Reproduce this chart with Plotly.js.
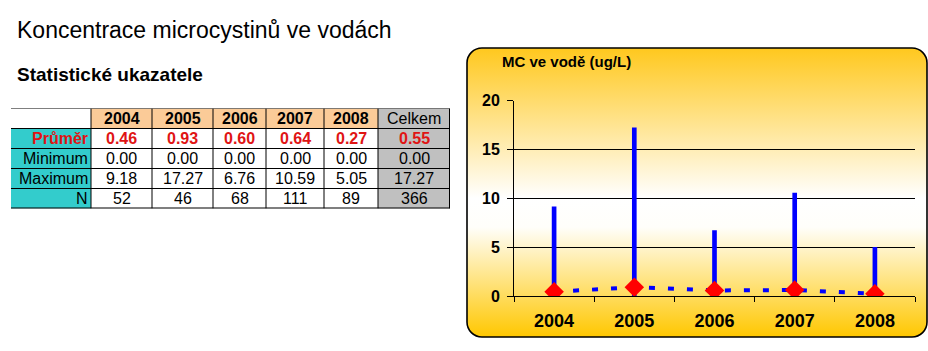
<!DOCTYPE html>
<html><head><meta charset="utf-8">
<script src="https://cdn.plot.ly/plotly-3.0.1.min.js"></script>
<style>html,body{margin:0;padding:0;background:#fff}#chart{width:928px;height:351px}</style>
</head><body><div id="chart"></div><script>
// ---- data ----
const years = ['2004', '2005', '2006', '2007', '2008'];
const meanValues = [0.46, 0.93, 0.60, 0.64, 0.27];
const minValues = [0.00, 0.00, 0.00, 0.00, 0.00];
const maxValues = [9.18, 17.27, 6.76, 10.59, 5.05];
const countValues = [52, 46, 68, 111, 89];
const totalHeader = 'Celkem';
const totalMean = 0.55;
const totalMin = 0.00;
const totalMax = 17.27;
const totalCount = 366;
const rowLabels = ['Průměr', 'Minimum', 'Maximum', 'N'];
const yTickValues = [0, 5, 10, 15, 20];
const mainTitle = 'Koncentrace microcystinů ve vodách';
const subTitle = 'Statistické ukazatele';
const chartTitle = 'MC ve vodě (ug/L)';

// ---- layout helpers ----
const W = 928, H = 351;
const px = x => x / W, py = y => 1 - y / H;
const FONT = '"Liberation Sans", Arial, sans-serif';
const RED = '#E01414';

// table geometry (pixels)
const colWidths = [80, 61, 61, 53, 58, 54, 72];
const colEdges = [0];
colWidths.forEach(w => colEdges.push(colEdges[colEdges.length - 1] + w));
const tableLeft = 11, tableTop = 108.5, rowH = 20, nRows = 5;
const tableW = colEdges[colEdges.length - 1];

const fmt = v => v.toFixed(2);
const tableRows = [
  [''].concat(years, [totalHeader]),
  [rowLabels[0]].concat(meanValues.map(fmt), [fmt(totalMean)]),
  [rowLabels[1]].concat(minValues.map(fmt), [fmt(totalMin)]),
  [rowLabels[2]].concat(maxValues.map(fmt), [fmt(totalMax)]),
  [rowLabels[3]].concat(countValues.map(String), [String(totalCount)])
];

const shapes = [];
const annotations = [];
const nCols = colWidths.length;
for (let r = 0; r < nRows; r++) {
  for (let c = 0; c < nCols; c++) {
    let fill = null;
    if (c === nCols - 1) fill = '#C0C0C0';
    else if (r === 0 && c > 0) fill = '#FBCB98';
    else if (r > 0 && c === 0) fill = '#33CCCC';
    if (fill) shapes.push({type: 'rect', xref: 'x2', yref: 'y2', x0: colEdges[c], x1: colEdges[c + 1], y0: r, y1: r + 1,
      fillcolor: fill, line: {width: 0}, layer: 'below'});
    const txt = tableRows[r][c];
    if (txt === '') continue;
    let bold = false, color = '#000';
    if (r === 0 && c > 0 && c < nCols - 1) bold = true;
    if (r === 1) { bold = true; color = RED; }
    annotations.push({xref: 'x2', yref: 'y2', x: c === 0 ? colEdges[1] - 1 : (colEdges[c] + colEdges[c + 1]) / 2,
      y: r + 0.5, xanchor: c === 0 ? 'right' : 'center', yanchor: 'middle', showarrow: false,
      text: bold ? '<b>' + txt + '</b>' : txt, font: {family: FONT, size: 16, color: color}});
  }
}
// borders
for (let r = 0; r <= nRows; r++) {
  shapes.push({type: 'line', xref: 'x2', yref: 'y2', x0: 0, x1: tableW, y0: r, y1: r,
    line: {color: '#000', width: r === nRows ? 2 : 1}});
}
for (let c = 1; c <= nCols; c++) {
  shapes.push({type: 'line', xref: 'x2', yref: 'y2', x0: colEdges[c], x1: colEdges[c], y0: 0, y1: nRows,
    line: {color: '#000', width: c === nCols ? 2 : 1}});
}

// titles
annotations.push({xref: 'paper', yref: 'paper', x: px(15), y: py(30), xanchor: 'left', yanchor: 'middle', showarrow: false,
  text: mainTitle, font: {family: FONT, size: 23, color: '#000'}});
annotations.push({xref: 'paper', yref: 'paper', x: px(15), y: py(74), xanchor: 'left', yanchor: 'middle', showarrow: false,
  text: '<b>' + subTitle + '</b>', font: {family: FONT, size: 19, color: '#000'}});
annotations.push({xref: 'paper', yref: 'paper', x: px(500), y: py(62), xanchor: 'left', yanchor: 'middle', showarrow: false,
  text: '<b>' + chartTitle + '</b>', font: {family: FONT, size: 15, color: '#000'}});

// chart panel background (rounded, gradient)
const panelW = 464, panelH = 293;
const svg = '<svg xmlns="http://www.w3.org/2000/svg" width="' + panelW + '" height="' + panelH + '" viewBox="0 0 ' + panelW + ' ' + panelH + '">' +
  '<defs><linearGradient id="g" x1="0" y1="0" x2="0" y2="1">' +
  '<stop offset="0" stop-color="#FFC81E"/><stop offset="0.52" stop-color="#FFFFFF"/><stop offset="0.62" stop-color="#FFFEFA"/><stop offset="1" stop-color="#FFC700"/>' +
  '</linearGradient></defs>' +
  '<rect x="1" y="1" width="460" height="289" rx="15" ry="15" fill="url(#g)" stroke="#000" stroke-width="1.6"/></svg>';
const images = [{source: 'data:image/svg+xml;base64,' + btoa(svg), xref: 'paper', yref: 'paper',
  x: px(466), y: py(47), sizex: panelW / W, sizey: panelH / H, xanchor: 'left', yanchor: 'top',
  sizing: 'stretch', layer: 'below'}];

const traces = [
  {type: 'bar', x: years, y: maxValues.map((v, i) => v - minValues[i]), base: minValues, width: 0.058,
   marker: {color: '#0000FF', line: {width: 0}}, xaxis: 'x', yaxis: 'y', hoverinfo: 'skip', showlegend: false},
  {type: 'scatter', mode: 'lines+markers', x: years, y: meanValues,
   line: {color: '#0000FF', width: 4, dash: '6px,13px'},
   marker: {symbol: 'diamond', size: 15, color: '#FF0000', line: {width: 0}},
   xaxis: 'x', yaxis: 'y', hoverinfo: 'skip', showlegend: false}
];

const layout = {
  width: W, height: H, margin: {l: 0, r: 0, t: 0, b: 0},
  paper_bgcolor: '#FFFFFF', plot_bgcolor: 'rgba(0,0,0,0)', showlegend: false,
  xaxis: {domain: [px(514), px(915)], anchor: 'y', type: 'category', range: [-0.5, 4.5],
    showline: true, linecolor: '#000', linewidth: 1, ticks: 'outside', tickson: 'boundaries', ticklen: 5,
    tickcolor: '#000', showgrid: false, zeroline: false, ticklabelstandoff: 8,
    tickfont: {family: FONT, size: 18, color: '#000', weight: 'bold'}},
  yaxis: {domain: [py(296.3), py(100.7)], anchor: 'x', range: [0, 20], tickvals: yTickValues,
    showline: true, linecolor: '#000', linewidth: 1, ticks: 'outside', ticklen: 6, tickcolor: '#000',
    showgrid: true, gridcolor: '#000', gridwidth: 1, zeroline: false, ticklabelstandoff: 4,
    tickfont: {family: FONT, size: 16, color: '#000', weight: 'bold'}},
  xaxis2: {domain: [px(tableLeft), px(tableLeft + tableW)], anchor: 'y2', range: [0, tableW], visible: false, fixedrange: true},
  yaxis2: {domain: [py(tableTop + nRows * rowH), py(tableTop)], anchor: 'x2', range: [nRows, 0], visible: false, fixedrange: true},
  shapes: shapes, annotations: annotations, images: images
};

Plotly.newPlot('chart', traces, layout, {displayModeBar: false, staticPlot: true});
</script></body></html>
